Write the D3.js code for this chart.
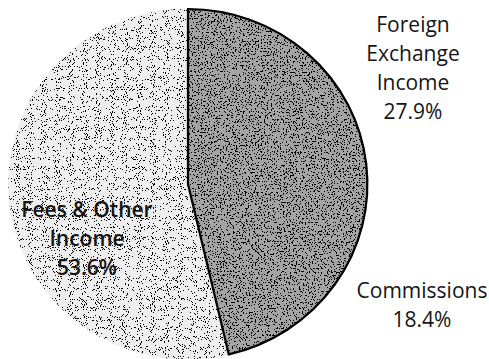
<!DOCTYPE html>
<html>
<head>
<meta charset="utf-8">
<script src="https://cdn.jsdelivr.net/npm/d3@7"></script>
<style>
  body { margin: 0; background: #fff; }
  svg { display: block; }
</style>
</head>
<body>
<div id="chart"></div>
<script>
// income split (percent of total)
var categories = ["Foreign Exchange Income", "Commissions", "Fees & Other Income"];
var shares = [27.9, 18.4, 53.6];
var labelLines = [["Foreign", "Exchange", "Income"], ["Commissions"], ["Fees & Other", "Income"]];

var width = 489, height = 359;
var cx = 188, cy = 184, radius = 175;

// where each label block sits (center x, first baseline y)
var labelPos = [[413, 32], [422, 298], [87, 217]];
var fills = ["#a4a4a4", "#a4a4a4", "#eeeeee"];
var grain = ["dark", "dark", "light"];

var data = categories.map(function(c, i) {
  return {name: c, value: shares[i], lines: labelLines[i]};
});

var svg = d3.select("#chart")
  .append("svg")
  .attr("width", width)
  .attr("height", height);

// scanned-print grain: black specks, denser on the dark slices
var defs = svg.append("defs");
function addGrain(id, freq, cut, seed) {
  var f = defs.append("filter").attr("id", id)
    .attr("x", "0%").attr("y", "0%").attr("width", "100%").attr("height", "100%");
  f.append("feTurbulence").attr("type", "fractalNoise")
    .attr("baseFrequency", freq).attr("numOctaves", 1).attr("seed", seed).attr("result", "n");
  f.append("feColorMatrix").attr("in", "n").attr("type", "matrix")
    .attr("values", "0 0 0 0 0  0 0 0 0 0  0 0 0 0 0  1 0 0 0 0").attr("result", "a");
  f.append("feComponentTransfer").attr("in", "a").attr("result", "dots")
    .append("feFuncA").attr("type", "discrete").attr("tableValues", cut);
  f.append("feComposite").attr("in", "dots").attr("in2", "SourceGraphic")
    .attr("operator", "in").attr("result", "clipped");
  var m = f.append("feMerge");
  m.append("feMergeNode").attr("in", "SourceGraphic");
  m.append("feMergeNode").attr("in", "clipped");
}
addGrain("grain-light", 1.1, "0 0 0 0 0 0 0 0 0 0 0 0 0 0 0 0 1 1 1 1 1 1 1 1 1", 3);
addGrain("grain-dark", 0.7, "0 0 0 1 1", 7);

var pie = d3.pie()
  .sort(null)
  .value(function(d) { return d.value; });

var arcs = pie(data);

var arc = d3.arc()
  .innerRadius(0)
  .outerRadius(radius);

// slightly wider than tall, like the scan
var g = svg.append("g")
  .attr("transform", "translate(" + cx + "," + cy + ") scale(1.025,1)");

g.selectAll("path.slice")
  .data(arcs)
  .join("path")
  .attr("class", "slice")
  .attr("fill", function(d, i) { return fills[i]; })
  .attr("stroke", function(d, i) { return fills[i]; })
  .attr("stroke-width", 1)
  .attr("filter", function(d, i) { return "url(#grain-" + grain[i] + ")"; })
  .attr("d", arc);

// outline round the two dark slices together
var dark = {startAngle: arcs[0].startAngle, endAngle: arcs[1].endAngle};
g.append("path")
  .attr("d", arc(dark))
  .attr("fill", "none")
  .attr("stroke", "#000")
  .attr("stroke-width", 2.2)
  .attr("stroke-linejoin", "miter");

// labels
var lab = svg.append("g")
  .attr("font-family", "'Open Sans', sans-serif")
  .attr("font-size", 21)
  .attr("fill", "#151515")
  .attr("text-anchor", "middle");

arcs.forEach(function(d, i) {
  var lines = d.data.lines.concat([d3.format(".1f")(d.data.value) + "%"]);
  var t = lab.append("text")
    .attr("x", labelPos[i][0])
    .attr("y", labelPos[i][1])
    .attr("font-weight", i == 2 ? 600 : 400);
  lines.forEach(function(l, j) {
    t.append("tspan")
      .attr("x", labelPos[i][0])
      .attr("dy", j == 0 ? 0 : 29)
      .text(l);
  });
});
</script>
</body>
</html>
